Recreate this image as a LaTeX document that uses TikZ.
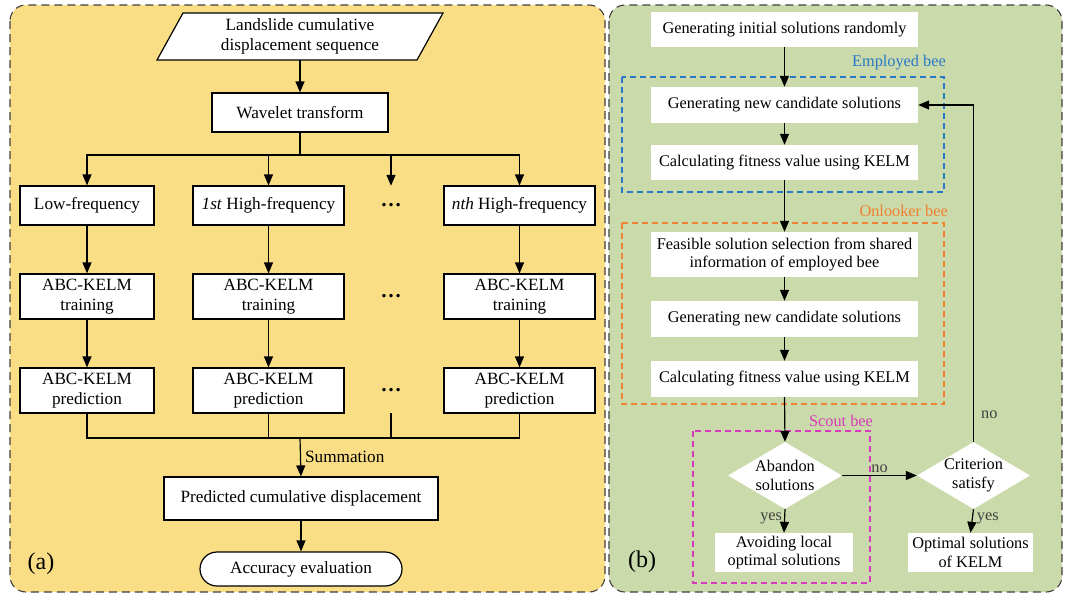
\documentclass[tikz,border=0pt]{standalone}
\usepackage{fontspec}
\setmainfont{Liberation Serif}
\usetikzlibrary{arrows.meta,shapes.geometric}
\definecolor{pa}{RGB}{249,222,134}
\definecolor{pb}{RGB}{202,218,170}
\definecolor{eb}{RGB}{40,120,200}
\definecolor{ob}{RGB}{240,128,50}
\definecolor{sb}{RGB}{214,60,185}
\definecolor{lbl}{RGB}{64,64,64}
\begin{document}
\begin{tikzpicture}[x=1pt,y=-1pt,
  font=\fontsize{16.3}{18.5}\selectfont,
  box/.style={draw=black, fill=white, line width=1.2pt, align=center, inner sep=0pt},
  wbox/.style={fill=white, align=center, inner sep=0pt},
  dotsnode/.style={inner sep=0pt, font=\fontsize{21}{21}\selectfont\bfseries},
  arr/.style={-{Triangle[length=11pt,width=9pt]}, line width=1.2pt},
  ln/.style={line width=1.2pt},
  panel/.style={draw=black!75, dash pattern=on 8pt off 5pt, line width=1.1pt, rounded corners=16pt},
  grp/.style={dash pattern=on 6pt off 4pt, line width=1.2pt},
  yn/.style={text=lbl, inner sep=2pt},
  plabel/.style={font=\fontsize{24}{26}\selectfont, inner sep=0pt},
]
\useasboundingbox (0,0) rectangle (1069,595);
\fill[white] (0,0) rectangle (1069,595);
% panels
\path[panel, fill=pa] (10,5) rectangle (605,592);
\path[panel, fill=pb] (609,5) rectangle (1062,592);

% ---------- panel (a) ----------
\begin{scope}[font=\fontsize{17.2}{20}\selectfont]
\draw[ln, fill=white] (157,60) -- (183,13) -- (443,13) -- (417,60) -- cycle;
\node[align=center, inner sep=0pt, minimum width=258, minimum height=47] (src) at (300,36.5) {Landslide cumulative\\displacement sequence};
\node[box, minimum width=176, minimum height=39] (wt) at (300,112.5) {Wavelet transform};

\node[box, minimum width=134, minimum height=39] (lf) at (87,205.5) {Low-frequency};
\node[box, minimum width=151, minimum height=39] (h1) at (268.5,205.5) {\textit{1st} High-frequency};
\node[dotsnode, minimum height=39] (d1) at (391,205.5) {…};
\node[box, minimum width=151, minimum height=39] (hn) at (519.5,205.5) {\textit{nth} High-frequency};

\node[box, minimum width=134, minimum height=45] (t1) at (87,296.5) {ABC-KELM\\training};
\node[box, minimum width=151, minimum height=45] (t2) at (268.5,296.5) {ABC-KELM\\training};
\node[dotsnode, minimum height=45] (d2) at (391,296.5) {…};
\node[box, minimum width=151, minimum height=45] (tn) at (519.5,296.5) {ABC-KELM\\training};

\node[box, minimum width=134, minimum height=45] (p1) at (87,390.5) {ABC-KELM\\prediction};
\node[box, minimum width=151, minimum height=45] (p2) at (268.5,390.5) {ABC-KELM\\prediction};
\node[dotsnode, minimum height=45] (d3) at (391,390.5) {…};
\node[box, minimum width=151, minimum height=45] (pn) at (519.5,390.5) {ABC-KELM\\prediction};

\node[box, minimum width=274, minimum height=43] (pc) at (301,498.5) {Predicted cumulative displacement};
\node[box, rounded corners=17pt, minimum width=202, minimum height=34] (acc) at (301,569) {Accuracy evaluation};
\node[plabel] (la) at (41,564) {(a)};

\draw[arr] (src) -- (wt);
\coordinate (bar) at (300,155);
\draw[ln] (wt.south) -- (bar);
\draw[arr] (bar) -| (lf.north);
\draw[arr] (bar) -| (h1.north);
\draw[arr] (bar) -| (d1.north);
\draw[arr] (bar) -| (hn.north);
\draw[arr] (lf) -- (t1);
\draw[arr] (h1) -- (t2);
\draw[arr] (hn) -- (tn);
\draw[arr] (t1) -- (p1);
\draw[arr] (t2) -- (p2);
\draw[arr] (tn) -- (pn);
\coordinate (sum) at (300,438);
\draw[ln] (p1.south) |- (sum);
\draw[ln] (p2.south) |- (sum);
\draw[ln] (d3.south) |- (sum);
\draw[ln] (pn.south) |- (sum);
\draw[arr] (sum) -- node[midway, right, inner sep=4pt] (sm) {Summation} (pc.north);
\draw[arr] (pc) -- (acc);
\end{scope}

% ---------- panel (b) ----------
\draw[eb, grp] (622,77) rectangle (944,192);
\draw[ob, grp] (622,223) rectangle (944,404);
\draw[sb, grp] (693,431) rectangle (870,583);
\node[text=eb, anchor=east, inner sep=0pt] (lbe) at (946,63) {Employed bee};
\node[text=ob, anchor=east, inner sep=0pt] (lbo) at (948,211) {Onlooker bee};
\node[text=sb, inner sep=0pt] (lbs) at (841,421) {Scout bee};

\node[wbox, minimum width=267, minimum height=35] (init) at (784.5,29.5) {Generating initial solutions randomly};
\node[wbox, minimum width=267, minimum height=36] (gen1) at (784.5,105) {Generating new candidate solutions};
\node[wbox, minimum width=267, minimum height=35] (calc1) at (784.5,162.5) {Calculating fitness value using KELM};
\node[wbox, minimum width=267, minimum height=45] (feas) at (784.5,254.5) {Feasible solution selection from shared\\information of employed bee};
\node[wbox, minimum width=267, minimum height=36] (gen2) at (784.5,319) {Generating new candidate solutions};
\node[wbox, minimum width=267, minimum height=36] (calc2) at (784.5,379) {Calculating fitness value using KELM};

\node[diamond, fill=white, minimum width=114, minimum height=67, inner sep=0pt] (ab) at (785,475.5) {};
\node[align=center, inner sep=0pt] (abt) at (ab.center) {Abandon\\solutions};
\node[diamond, fill=white, minimum width=113, minimum height=67, inner sep=0pt] (cr) at (973.5,475.5) {};
\node[align=center, inner sep=0pt] (crt) at (cr.center) {Criterion\\satisfy};

\node[wbox, minimum width=138, minimum height=39] (av) at (784,552.5) {Avoiding local\\optimal solutions};
\node[wbox, minimum width=125, minimum height=39] (op) at (970.5,552.5) {Optimal solutions\\of KELM};
\node[plabel] (lb) at (642,562) {(b)};

\draw[arr] (init) -- (gen1);
\draw[arr] (gen1) -- (calc1);
\draw[arr] (calc1) -- (feas);
\draw[arr] (feas) -- (gen2);
\draw[arr] (gen2) -- (calc2);
\draw[arr] (calc2.south) -- (ab.north);
\draw[arr] (ab.east) -- node[pos=0.5, above, yn] (no1) {no} (cr.west);
\draw[arr] (ab.south) -- node[pos=0.4, left, yn] (yes1) {yes} (av.north);
\draw[arr] (cr.south) -- node[pos=0.4, right, yn, xshift=2pt] (yes2) {yes} (op.north);
\draw[arr] (cr.north) |- node[pos=0.04, right, yn, xshift=5pt] (no2) {no} (gen1.east);
\end{tikzpicture}
\end{document}
